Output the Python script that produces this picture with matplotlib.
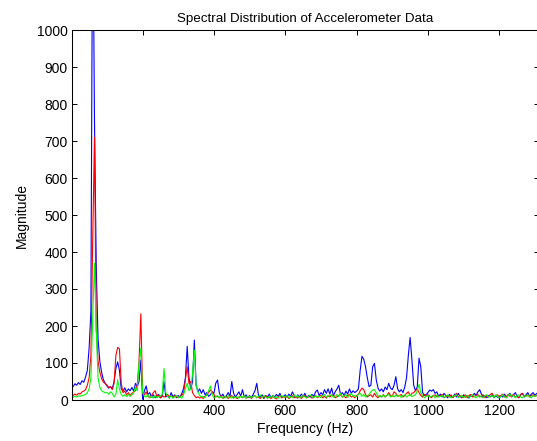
import numpy as np
import matplotlib
matplotlib.use("Agg")
import matplotlib.pyplot as plt

plt.rcParams['font.family'] = ['Liberation Sans', 'DejaVu Sans']

# frequency bins (Hz), 5 Hz spacing
freq = np.arange(0, 1315, 5)

# magnitude of axis 1 (blue), in 100 Hz blocks
blue_0 = [38, 36, 44, 40, 47, 42, 52, 48, 62, 80, 140, 240, 1400, 760, 360, 165, 105, 75, 55, 45]
blue_1 = [38, 32, 36, 30, 50, 85, 103, 80, 30, 24, 33, 22, 30, 25, 34, 24, 45, 36, 50, 108]
blue_2 = [2, 25, 38, 14, 20, 8, 14, 6, 12, 15, 6, 10, 50, 8, 12, 5, 20, 8, 14, 6]
blue_3 = [12, 8, 18, 32, 60, 145, 60, 30, 50, 162, 40, 22, 30, 18, 28, 14, 20, 10, 14, 22]
blue_4 = [18, 45, 54, 20, 8, 16, 6, 12, 20, 10, 50, 18, 8, 15, 22, 10, 28, 8, 14, 6]
blue_5 = [12, 6, 15, 25, 45, 12, 8, 14, 4, 12, 8, 16, 6, 12, 8, 15, 10, 18, 6, 10]
blue_6 = [14, 8, 16, 10, 22, 12, 6, 14, 8, 16, 10, 18, 6, 12, 8, 15, 10, 22, 27, 12]
blue_7 = [20, 14, 28, 18, 30, 16, 32, 12, 22, 30, 40, 14, 20, 12, 24, 16, 30, 18, 25, 20]
blue_8 = [24, 30, 80, 118, 110, 90, 60, 36, 40, 90, 99, 55, 32, 24, 30, 22, 35, 28, 45, 32]
blue_9 = [28, 40, 63, 30, 22, 28, 20, 35, 60, 120, 169, 110, 40, 25, 35, 113, 90, 20, 12, 15]
blue_10 = [20, 27, 24, 28, 18, 22, 10, 16, 8, 18, 12, 6, 15, 10, 8, 16, 8, 18, 10, 6]
blue_11 = [14, 8, 12, 5, 14, 10, 18, 12, 22, 28, 16, 8, 12, 6, 12, 8, 14, 6, 12, 8]
blue_12 = [5, 12, 8, 16, 6, 14, 18, 8, 14, 20, 10, 6, 15, 18, 8, 14, 20, 10, 16, 20, 12, 18, 15]

# magnitude of axis 2 (red)
red_0 = [14, 12, 16, 13, 18, 16, 22, 24, 28, 40, 60, 120, 430, 710, 190, 105, 75, 58, 48, 45]
red_1 = [40, 34, 36, 28, 45, 120, 142, 138, 45, 20, 24, 14, 20, 12, 18, 22, 25, 40, 105, 233]
red_2 = [20, 14, 22, 10, 6, 12, 20, 25, 10, 12, 6, 12, 8, 10, 15, 8, 12, 6, 12, 8]
red_3 = [6, 10, 12, 20, 55, 90, 45, 50, 20, 12, 6, 9, 5, 8, 4, 10, 15, 20, 27, 22]
red_4 = [15, 8, 10, 6, 12, 4, 8, 10, 4, 9, 12, 5, 8, 4, 8, 10, 6, 12, 5, 8]
red_5 = [8, 4, 10, 12, 6, 8, 4, 10, 6, 12, 5, 8, 4, 10, 6, 3, 8, 12, 6, 9]
red_6 = [6, 10, 4, 8, 12, 6, 9, 5, 10, 4, 10, 12, 6, 8, 12, 5, 8, 12, 6, 10]
red_7 = [12, 6, 10, 5, 12, 8, 12, 14, 6, 9, 12, 15, 8, 10, 6, 12, 15, 8, 10, 6]
red_8 = [12, 15, 25, 32, 28, 15, 8, 12, 14, 8, 18, 10, 6, 12, 8, 15, 8, 12, 20, 12]
red_9 = [10, 22, 18, 10, 12, 15, 8, 12, 18, 22, 12, 18, 20, 25, 30, 20, 12, 8, 15, 10]
red_10 = [15, 10, 6, 12, 14, 8, 10, 12, 15, 6, 10, 12, 8, 14, 6, 12, 18, 8, 12, 6]
red_11 = [10, 14, 6, 12, 15, 8, 10, 12, 15, 8, 10, 14, 6, 12, 8, 15, 18, 8, 12, 14]
red_12 = [8, 12, 16, 8, 10, 14, 10, 12, 15, 8, 10, 6, 14, 18, 10, 12, 14, 8, 12, 14, 10, 12, 10]

# magnitude of axis 3 (green)
green_0 = [8, 7, 10, 8, 11, 10, 12, 13, 15, 20, 30, 60, 220, 370, 190, 60, 35, 25, 22, 20]
green_1 = [20, 16, 22, 18, 8, 15, 55, 30, 15, 10, 14, 9, 15, 10, 14, 20, 35, 25, 100, 140]
green_2 = [20, 10, 8, 15, 6, 10, 5, 12, 6, 9, 12, 15, 85, 20, 10, 6, 12, 5, 9, 12]
green_3 = [6, 9, 5, 15, 30, 45, 25, 30, 72, 135, 40, 22, 12, 8, 10, 6, 15, 25, 38, 15]
green_4 = [5, 9, 12, 6, 9, 5, 10, 6, 12, 8, 5, 10, 6, 9, 5, 10, 7, 12, 5, 9]
green_5 = [10, 6, 9, 12, 6, 10, 14, 6, 12, 8, 5, 10, 7, 12, 6, 9, 5, 10, 12, 7]
green_6 = [9, 12, 6, 10, 6, 14, 8, 12, 6, 9, 12, 8, 6, 10, 14, 9, 6, 12, 8, 10]
green_7 = [6, 12, 15, 8, 10, 12, 14, 7, 10, 15, 9, 18, 8, 12, 15, 7, 12, 18, 10, 12]
green_8 = [9, 15, 18, 10, 15, 8, 12, 15, 22, 27, 28, 20, 10, 12, 8, 14, 9, 12, 15, 8]
green_9 = [12, 8, 14, 10, 12, 7, 12, 14, 8, 12, 15, 9, 12, 14, 25, 42, 20, 12, 6, 10]
green_10 = [12, 8, 10, 12, 6, 14, 8, 10, 12, 6, 10, 14, 9, 6, 10, 12, 14, 6, 10, 12]
green_11 = [6, 10, 12, 7, 10, 14, 9, 6, 10, 12, 8, 6, 12, 14, 8, 10, 12, 7, 14, 10]
green_12 = [6, 10, 14, 9, 6, 12, 16, 10, 12, 6, 12, 14, 8, 6, 12, 9, 14, 10, 6, 12, 10, 12, 8]

blue = np.array(blue_0 + blue_1 + blue_2 + blue_3 + blue_4 + blue_5 + blue_6 + blue_7
                + blue_8 + blue_9 + blue_10 + blue_11 + blue_12)
red = np.array(red_0 + red_1 + red_2 + red_3 + red_4 + red_5 + red_6 + red_7
               + red_8 + red_9 + red_10 + red_11 + red_12)
green = np.array(green_0 + green_1 + green_2 + green_3 + green_4 + green_5 + green_6 + green_7
                 + green_8 + green_9 + green_10 + green_11 + green_12)

title = "Spectral Distribution of Accelerometer Data"
xlabel = "Frequency (Hz)"
ylabel = "Magnitude"
xticks = [200, 400, 600, 800, 1000, 1200]
yticks = [0, 100, 200, 300, 400, 500, 600, 700, 800, 900, 1000]

W, H = 537, 441
fig = plt.figure(figsize=(W / 100, H / 100), dpi=100)
ax = fig.add_axes([72 / W, (H - 400) / H, (538.5 - 72) / W, 370 / H])

lw = 0.8
ax.plot(freq, blue, color=(0, 0, 1), lw=lw)
ax.plot(freq, red, color=(1, 0, 0), lw=lw)
ax.plot(freq, green, color=(0, 1, 0), lw=lw)

ax.set_xlim(2, 1310)
ax.set_ylim(0, 1000)
ax.set_xticks(xticks)
ax.set_yticks(yticks)
ax.tick_params(direction='in', length=3.6, width=0.7, top=True, right=True,
               labelsize=10, pad=3, colors='black')
for s in ax.spines.values():
    s.set_linewidth(0.75)
ax.set_title(title, fontsize=9.6, pad=6)
ax.set_xlabel(xlabel, fontsize=10, labelpad=3)
ax.set_ylabel(ylabel, fontsize=10, labelpad=6)

fig.savefig("out.png", dpi=100)
